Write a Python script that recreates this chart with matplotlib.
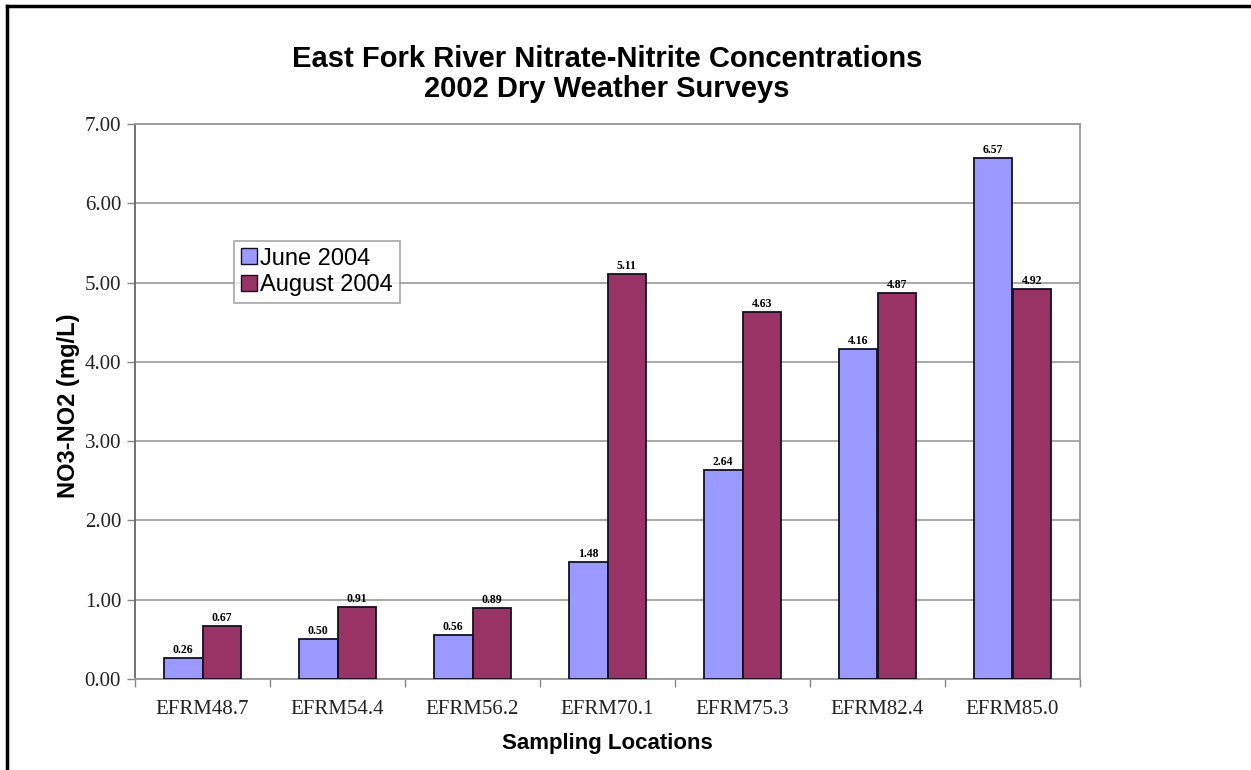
import numpy as np
import matplotlib
matplotlib.use("Agg")
import matplotlib.pyplot as plt
from matplotlib.lines import Line2D

locations = ["EFRM48.7", "EFRM54.4", "EFRM56.2", "EFRM70.1", "EFRM75.3", "EFRM82.4", "EFRM85.0"]
june_2004 = [0.26, 0.50, 0.56, 1.48, 2.64, 4.16, 6.57]
august_2004 = [0.67, 0.91, 0.89, 5.11, 4.63, 4.87, 4.92]
y_ticks = [0, 1, 2, 3, 4, 5, 6, 7]

sans = ["Liberation Sans", "DejaVu Sans"]
serif = ["Liberation Serif", "DejaVu Serif"]

fig = plt.figure(figsize=(12.51, 7.70), dpi=100)
ax = fig.add_axes([135 / 1251, 1 - 679 / 770, 945 / 1251, 555 / 770])

x = np.arange(len(locations))
bw = 1 / 3.5
ax.bar(x - bw / 2, june_2004, bw, color="#9999FF", edgecolor="#111122", linewidth=1.3,
       label="June 2004", zorder=3)
ax.bar(x + bw / 2, august_2004, bw, color="#993366", edgecolor="#111122", linewidth=1.3,
       label="August 2004", zorder=3)

for xi, v in zip(x - bw / 2, june_2004):
    ax.annotate(f"{v:.2f}", (xi, v), xytext=(0, 1.5), textcoords="offset points",
                ha="center", va="bottom", fontsize=8.5, fontweight="bold", family=serif)
for xi, v in zip(x + bw / 2, august_2004):
    ax.annotate(f"{v:.2f}", (xi, v), xytext=(0, 1.5), textcoords="offset points",
                ha="center", va="bottom", fontsize=8.5, fontweight="bold", family=serif)

ax.set_xlim(-0.5, len(locations) - 0.5)
ax.set_ylim(0, 7)
ax.set_yticks(y_ticks)
ax.set_yticklabels([f"{t:.2f}" for t in y_ticks], family=serif, fontsize=15, color="#222222")
ax.set_xticks(x)
ax.set_xticklabels(locations, family=serif, fontsize=15, color="#222222")
ax.tick_params(axis="x", length=0, pad=15)
ax.set_xticks(np.arange(-0.5, len(locations)), minor=True)
ax.tick_params(axis="x", which="minor", length=6, color="#888888", width=1)
ax.tick_params(axis="y", length=6, color="#888888", width=1, pad=4)

ax.yaxis.grid(True, color="#999999", linewidth=1.2, zorder=0)
ax.set_axisbelow(True)
for s in ax.spines.values():
    s.set_color("#999999")
    s.set_linewidth(1.3)
ax.spines["left"].set_color("#666666")

ax.set_xlabel("Sampling Locations", family=sans, fontsize=16, fontweight="bold")
ax.xaxis.set_label_coords(0.5, -0.098)
ax.set_ylabel("NO3-NO2 (mg/L)", family=sans, fontsize=17, fontweight="bold")
ax.yaxis.set_label_coords(-0.058, 0.492)

fig.text(607 / 1251, 1 - 74 / 770,
         "East Fork River Nitrate-Nitrite Concentrations\n2002 Dry Weather Surveys",
         ha="center", va="center", family=sans, fontsize=21, fontweight="bold",
         linespacing=1.08)

leg = ax.legend(loc="upper left", bbox_to_anchor=(0.105, 0.79), prop={"family": sans, "size": 17},
                frameon=True, fancybox=False, edgecolor="#999999", handlelength=0.65,
                handleheight=0.65, handletextpad=0.15, borderpad=0.3, labelspacing=0.2,
                borderaxespad=0)
leg.get_frame().set_linewidth(1.3)
for h in leg.legend_handles:
    h.set_linewidth(1.0)

# outer frame lines on the left and top edges
fig.add_artist(Line2D([7 / 1251, 7 / 1251], [0, 1 - 6 / 770], transform=fig.transFigure,
                      color="black", linewidth=2.5))
fig.add_artist(Line2D([7 / 1251, 1], [1 - 6 / 770, 1 - 6 / 770], transform=fig.transFigure,
                      color="black", linewidth=2.5))

fig.savefig("out.png", dpi=100)
